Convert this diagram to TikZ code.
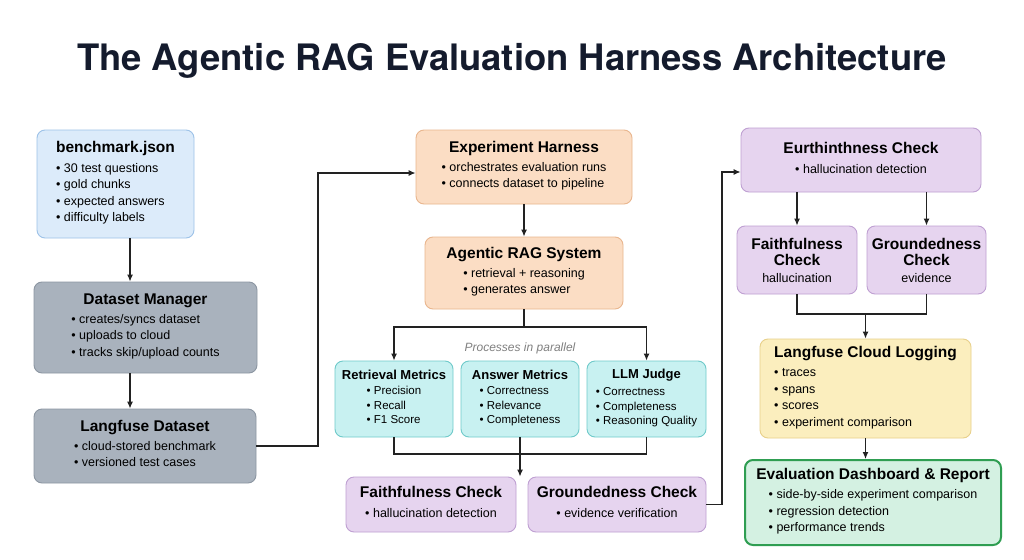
\documentclass[tikz,border=0pt]{standalone}
\usepackage{fontspec}
\setmainfont{Liberation Sans}
\newfontfamily\titlefont{TeX Gyre Heros}
\usetikzlibrary{positioning, arrows.meta}

\definecolor{bleuF}{HTML}{DCEBFA}\definecolor{bleuD}{HTML}{9DC2E8}
\definecolor{grisF}{HTML}{A9B2BD}\definecolor{grisD}{HTML}{8C96A2}
\definecolor{pecheF}{HTML}{FBDDC4}\definecolor{pecheD}{HTML}{E9B68E}
\definecolor{turqF}{HTML}{C8F1F1}\definecolor{turqD}{HTML}{6FCACA}
\definecolor{violetF}{HTML}{E6D4EF}\definecolor{violetD}{HTML}{BFA0D2}
\definecolor{jauneF}{HTML}{FBEEBE}\definecolor{jauneD}{HTML}{E8D08A}
\definecolor{vertF}{HTML}{D4F1E2}\definecolor{vertD}{HTML}{2F9E52}
\definecolor{trait}{HTML}{222222}
\definecolor{titrecol}{HTML}{141B2D}

% puces et titres de boites
\newcommand{\itm}[1]{\textbullet\ #1}
\newcommand{\hd}[1]{{\fontsize{15.5}{19}\selectfont\bfseries #1}}
\newcommand{\boxc}[2]{\hd{#1}\\[3pt]\begin{tabular}{@{}l@{}}#2\end{tabular}}
\newcommand{\boxl}[2]{\begin{tabular}{@{}l@{}}\hd{#1}\\[3pt]#2\end{tabular}}

\tikzset{
  boite/.style={draw, rounded corners=8pt, line width=0.9pt, align=center,
    inner sep=3pt, font=\fontsize{12.5}{16.5}\selectfont},
  bleu/.style={boite, fill=bleuF, draw=bleuD},
  gris/.style={boite, fill=grisF, draw=grisD},
  peche/.style={boite, fill=pecheF, draw=pecheD},
  turq/.style={boite, fill=turqF, draw=turqD, font=\fontsize{11.5}{14.5}\selectfont},
  violet/.style={boite, fill=violetF, draw=violetD},
  jaune/.style={boite, fill=jauneF, draw=jauneD},
  vert/.style={boite, fill=vertF, draw=vertD, line width=2pt},
  arr/.style={-{Latex[length=7pt,width=6pt]}, line width=1.2pt, draw=trait},
  ln/.style={line width=1.2pt, draw=trait},
}

\begin{document}
\begin{tikzpicture}[x=1pt, y=-1pt]
  % Fond et cadre
  \path[fill=white, use as bounding box] (0,0) rectangle (1024,559);

  % Titre
  \node[font=\titlefont\fontsize{36.4}{44}\selectfont\bfseries, text=titrecol] (titre) at (512,61)
    {The Agentic RAG Evaluation Harness Architecture};

  % Colonne de gauche
  \node[bleu, minimum width=157pt, minimum height=108pt] (bench) at (115.5,184)
    {\boxl{benchmark.json}{\itm{30 test questions}\\ \itm{gold chunks}\\ \itm{expected answers}\\ \itm{difficulty labels}}};
  \node[gris, minimum width=223pt, minimum height=91pt] (dm) at (145.5,327.5)
    {\boxc{Dataset Manager}{\itm{creates/syncs dataset}\\ \itm{uploads to cloud}\\ \itm{tracks skip/upload counts}}};
  \node[gris, minimum width=222pt, minimum height=74pt] (lds) at (145,446)
    {\boxc{Langfuse Dataset}{\itm{cloud-stored benchmark}\\ \itm{versioned test cases}}};

  % Colonne du milieu
  \node[peche, minimum width=216pt, minimum height=74pt] (eh) at (524,167)
    {\boxc{Experiment Harness}{\itm{orchestrates evaluation runs}\\ \itm{connects dataset to pipeline}}};
  \node[peche, minimum width=198pt, minimum height=72pt] (arag) at (524,273)
    {\boxc{Agentic RAG System}{\itm{retrieval + reasoning}\\ \itm{generates answer}}};
  \node[font=\fontsize{12}{14}\selectfont\itshape, text=gray] (para) at (520,348) {Processes in parallel};
  \node[turq, minimum width=118pt, minimum height=76pt] (ret) at (394,399)
    {{\bfseries\fontsize{13}{16}\selectfont Retrieval Metrics}\\[4pt]\begin{tabular}{@{}l@{}}\itm{Precision}\\ \itm{Recall}\\ \itm{F1 Score}\end{tabular}};
  \node[turq, minimum width=118pt, minimum height=76pt] (ans) at (520,399)
    {{\bfseries\fontsize{13}{16}\selectfont Answer Metrics}\\[4pt]\begin{tabular}{@{}l@{}}\itm{Correctness}\\ \itm{Relevance}\\ \itm{Completeness}\end{tabular}};
  \node[turq, minimum width=119pt, minimum height=76pt] (llm) at (646.5,399)
    {{\bfseries\fontsize{13}{16}\selectfont LLM Judge}\\[4pt]\begin{tabular}{@{}l@{}}\itm{Correctness}\\ \itm{Completeness}\\ \itm{Reasoning Quality}\end{tabular}};
  \node[violet, minimum width=170pt, minimum height=55pt] (fc1) at (431,504.5)
    {\boxc{Faithfulness Check}{\itm{hallucination detection}}};
  \node[violet, minimum width=178pt, minimum height=55pt] (gc1) at (617,504.5)
    {\boxc{Groundedness Check}{\itm{evidence verification}}};

  % Colonne de droite
  \node[violet, minimum width=240pt, minimum height=64pt] (ec) at (861,160)
    {\boxc{Eurthinthness Check}{\itm{hallucination detection}}};
  \node[violet, minimum width=120pt, minimum height=68pt] (fc2) at (797,260)
    {\hd{Faithfulness}\\ \hd{Check}\\ hallucination};
  \node[violet, minimum width=119pt, minimum height=68pt] (gc2) at (926.5,260)
    {\hd{Groundedness}\\ \hd{Check}\\ evidence};
  \node[jaune, minimum width=211pt, minimum height=99pt] (lcl) at (865.5,388.5)
    {\boxl{Langfuse Cloud Logging}{\itm{traces}\\ \itm{spans}\\ \itm{scores}\\ \itm{experiment comparison}}};
  \node[vert, minimum width=256pt, minimum height=85pt] (edr) at (873,502.5)
    {\boxc{Evaluation Dashboard \& Report}{\itm{side-by-side experiment comparison}\\ \itm{regression detection}\\ \itm{performance trends}}};

  % Points de passage
  \coordinate (lx) at (130,0);
  \coordinate (j1) at (318,0);
  \coordinate (sp) at (0,327);
  \coordinate (mg) at (0,454);
  \coordinate (j2) at (722,0);
  \coordinate (mg2) at (0,314);
  \coordinate (ehin) at ([yshift=-6pt]eh.west);
  \coordinate (ecin) at ([yshift=-12pt]ec.west);

  % Fleches
  \draw[arr] (bench.south -| lx) -- (dm.north -| lx);
  \draw[arr] (dm.south -| lx) -- (lds.north -| lx);
  \draw[arr] (lds.east) -| (j1 |- ehin) -- (ehin);
  \draw[arr] (eh) -- (arag);
  \draw[ln] (arag.south) -- (arag.south |- sp);
  \draw[arr] (arag.south |- sp) -| (ret.north);
  \draw[arr] (arag.south |- sp) -| (llm.north);
  \draw[ln] (ret.south) |- (llm.south |- mg) -- (llm.south);
  \draw[arr] (ans.south) -- (ans.south |- fc1.north);
  \draw[arr] (gc1.east) -| (j2 |- ecin) -- (ecin);
  \draw[arr] (ec.south -| fc2.north) -- (fc2.north);
  \draw[arr] (ec.south -| gc2.north) -- (gc2.north);
  \draw[ln] (fc2.south) |- (gc2.south |- mg2) -- (gc2.south);
  \draw[arr] (lcl.north |- mg2) -- (lcl.north);
  \draw[arr] (lcl.south) -- (lcl.south |- edr.north);
\end{tikzpicture}
\end{document}
